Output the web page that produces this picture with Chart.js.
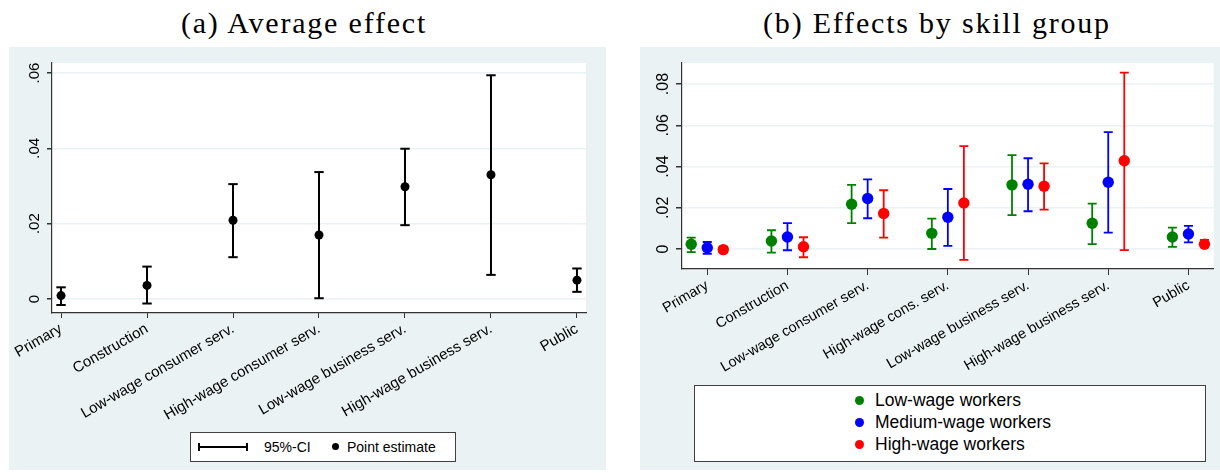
<!DOCTYPE html>
<html>
<head>
<meta charset="utf-8">
<script src="https://cdn.jsdelivr.net/npm/chart.js@4.4.0/dist/chart.umd.min.js"></script>
<style>
    body { margin: 0; width: 1220px; height: 473px; background: #fff; position: relative; overflow: hidden;
           font-family: "Liberation Sans", Arial, sans-serif; color: #000; }
    .panel { position: absolute; background: #eaf2f3; }
    .title { position: absolute; top: 8px; width: 600px; text-align: center; font-family: "Liberation Serif", "Times New Roman", serif;
             font-size: 30px; line-height: 30px; letter-spacing: 1.8px; }
    .wrap { position: absolute; }
    .legend { position: absolute; background: #fff; border: 1px solid #404040; box-sizing: border-box; }
    .legend span { position: absolute; white-space: nowrap; }
    .dot { border-radius: 50%; }
</style>
</head>
<body>
<div class="panel" style="left:9px;top:47px;width:597px;height:423px"></div>
<div class="panel" style="left:640px;top:47px;width:580px;height:423px"></div>
<div class="title" style="left:4px">(a) Average effect</div>
<div class="title" style="left:637px">(b) Effects by skill group</div>

<div class="wrap" style="left:0;top:40px"><canvas id="chartA" width="610" height="390"></canvas></div>
<div class="wrap" style="left:620px;top:40px"><canvas id="chartB" width="600" height="342"></canvas></div>

<!-- legend (a) -->
<div class="legend" style="left:190px;top:432px;width:266px;height:30px;font-size:14px">
    <span style="left:7px;top:13px;width:49px;height:2px;background:#000"></span>
    <span style="left:7px;top:10px;width:1.5px;height:8px;background:#000"></span>
    <span style="left:55px;top:10px;width:1.5px;height:8px;background:#000"></span>
    <span style="left:73px;top:6px;line-height:16px">95%-CI</span>
    <span class="dot" style="left:141px;top:10px;width:7px;height:7px;background:#000"></span>
    <span style="left:156px;top:6px;line-height:16px">Point estimate</span>
</div>

<!-- legend (b) -->
<div class="legend" style="left:694px;top:385px;width:512px;height:77px;font-size:17.5px">
    <span class="dot" style="left:160px;top:10px;width:9px;height:9px;background:rgb(0,128,0)"></span>
    <span style="left:180px;top:4px;line-height:20px">Low-wage workers</span>
    <span class="dot" style="left:160px;top:32px;width:9px;height:9px;background:#0000ff"></span>
    <span style="left:180px;top:26px;line-height:20px">Medium-wage workers</span>
    <span class="dot" style="left:160px;top:54px;width:9px;height:9px;background:#ff0000"></span>
    <span style="left:180px;top:48px;line-height:20px">High-wage workers</span>
</div>

<script>
// (a) Average effect
const categoriesA = ['Primary', 'Construction', 'Low-wage consumer serv.', 'High-wage consumer serv.',
                     'Low-wage business serv.', 'High-wage business serv.', 'Public'];
const estimateA = [0.0009, 0.0036, 0.0209, 0.0170, 0.0298, 0.0330, 0.0050];
const lowerA    = [-0.0016, -0.0012, 0.0111, 0.0002, 0.0196, 0.0064, 0.0019];
const upperA    = [0.0031, 0.0086, 0.0305, 0.0337, 0.0399, 0.0594, 0.0081];
const yTicksA = [0, 0.02, 0.04, 0.06];
const yTickLabelsA = ['0', '.02', '.04', '.06'];

// (b) Effects by skill group
const categoriesB = ['Primary', 'Construction', 'Low-wage consumer serv.', 'High-wage cons. serv.',
                     'Low-wage business serv.', 'High-wage business serv.', 'Public'];
const lowWageEst  = [0.0023, 0.0039, 0.0217, 0.0076, 0.0311, 0.0125, 0.0058];
const lowWageLo   = [-0.0015, -0.0018, 0.0125, 0.0000, 0.0164, 0.0024, 0.0010];
const lowWageHi   = [0.0055, 0.0091, 0.0311, 0.0147, 0.0455, 0.0220, 0.0104];
const medWageEst  = [0.0006, 0.0058, 0.0245, 0.0154, 0.0314, 0.0324, 0.0073];
const medWageLo   = [-0.0023, -0.0006, 0.0149, 0.0015, 0.0183, 0.0079, 0.0032];
const medWageHi   = [0.0034, 0.0125, 0.0338, 0.0291, 0.0440, 0.0567, 0.0112];
const highWageEst = [-0.0003, 0.0011, 0.0172, 0.0223, 0.0304, 0.0428, 0.0023];
const highWageLo  = [-0.0016, -0.0040, 0.0055, -0.0053, 0.0191, -0.0005, 0.0010];
const highWageHi  = [0.0011, 0.0057, 0.0285, 0.0499, 0.0415, 0.0855, 0.0044];
const yTicksB = [0, 0.02, 0.04, 0.06, 0.08];
const yTickLabelsB = ['0', '.02', '.04', '.06', '.08'];

Chart.defaults.font.family = '"Liberation Sans", Arial, sans-serif';
Chart.defaults.color = '#000';

// white plot region on the tinted panel
const plotRegion = {
    id: 'plotRegion',
    beforeDraw(chart) {
        const { ctx, chartArea: a } = chart;
        ctx.save();
        ctx.fillStyle = '#fff';
        ctx.fillRect(a.left, a.top, a.right - a.left, a.bottom - a.top);
        ctx.restore();
    }
};

// CI segments: lo -> hi, then a gap so the next category starts a new segment
function ciData(lo, hi, shift) {
    const out = [];
    lo.forEach((v, i) => {
        out.push({ x: i + shift, y: v }, { x: i + shift, y: hi[i] }, { x: i + shift, y: null });
    });
    return out;
}

function pointData(est, shift) {
    return est.map((v, i) => ({ x: i + shift, y: v }));
}

function ciSet(lo, hi, shift, color, cap, width) {
    return {
        data: ciData(lo, hi, shift), showLine: true, spanGaps: false,
        borderColor: color, borderWidth: width,
        pointStyle: 'line', pointRadius: cap, pointHoverRadius: cap,
        pointBorderColor: color, pointBorderWidth: width, order: 1
    };
}

function pointSet(est, shift, color, radius) {
    return {
        data: pointData(est, shift), backgroundColor: color, pointRadius: radius,
        pointHoverRadius: radius, pointBorderWidth: 0, order: 0
    };
}

function buildScales(o) {
    return {
        x: {
            type: 'linear', min: o.xMin, max: o.xMax,
            afterBuildTicks: s => { s.ticks = o.cats.map((c, i) => ({ value: i })); },
            afterFit: s => { s.height = 110; },
            grid: { drawOnChartArea: false, drawTicks: true, tickLength: o.tickLen, tickColor: '#333', lineWidth: 1 },
            border: { display: true, color: '#333', width: 1.2 },
            ticks: {
                autoSkip: false, minRotation: 30, maxRotation: 30, padding: 2,
                font: { size: o.xFont }, color: '#000',
                callback: v => o.cats[Math.round(v)]
            }
        },
        y: {
            min: o.yMin, max: o.yMax,
            afterBuildTicks: s => { s.ticks = o.yTicks.map(v => ({ value: v })); },
            afterFit: s => { s.width = o.yWidth; },
            grid: { color: '#eaf2f3', lineWidth: 1.5, drawTicks: true, tickLength: o.tickLen, tickColor: '#333' },
            border: { display: true, color: '#333', width: 1.2 },
            ticks: {
                minRotation: 90, maxRotation: 90, crossAlign: 'center', padding: o.yPad,
                font: { size: o.yFont }, color: '#000',
                callback: v => o.yLabels[o.yTicks.indexOf(v)]
            }
        }
    };
}

const commonOpts = {
    responsive: false, animation: false, events: [],
    plugins: { legend: { display: false }, tooltip: { enabled: false } }
};

new Chart(document.getElementById('chartA'), {
    type: 'scatter',
    data: {
        datasets: [
            ciSet(lowerA, upperA, 0, '#000', 4.7, 2),
            pointSet(estimateA, 0, '#000', 4.5)
        ]
    },
    options: {
        ...commonOpts,
        layout: { padding: { left: 9, top: 23, right: 24, bottom: 7 } },
        scales: buildScales({
            cats: categoriesA, xMin: -0.105, xMax: 6.105, yMin: -0.00372, yMax: 0.06266,
            yTicks: yTicksA, yLabels: yTickLabelsA, xFont: 15, yFont: 15, yWidth: 43, tickLen: 5, yPad: 1.6
        })
    },
    plugins: [plotRegion]
});

const GREEN = 'rgb(0,128,0)', BLUE = '#0000ff', RED = '#ff0000';

new Chart(document.getElementById('chartB'), {
    type: 'scatter',
    data: {
        datasets: [
            ciSet(lowWageLo, lowWageHi, -0.2, GREEN, 4.5, 1.8),
            pointSet(lowWageEst, -0.2, GREEN, 5.7),
            ciSet(medWageLo, medWageHi, 0, BLUE, 4.5, 1.8),
            pointSet(medWageEst, 0, BLUE, 5.7),
            ciSet(highWageLo, highWageHi, 0.2, RED, 4.5, 1.8),
            pointSet(highWageEst, 0.2, RED, 5.7)
        ]
    },
    options: {
        ...commonOpts,
        layout: { padding: { left: 20, top: 23, right: 2.5, bottom: 3 } },
        scales: buildScales({
            cats: categoriesB, xMin: -0.315, xMax: 6.315, yMin: -0.0097, yMax: 0.0902,
            yTicks: yTicksB, yLabels: yTickLabelsB, xFont: 14.5, yFont: 16, yWidth: 42, tickLen: 6, yPad: 1.4
        })
    },
    plugins: [plotRegion]
});
</script>
</body>
</html>
